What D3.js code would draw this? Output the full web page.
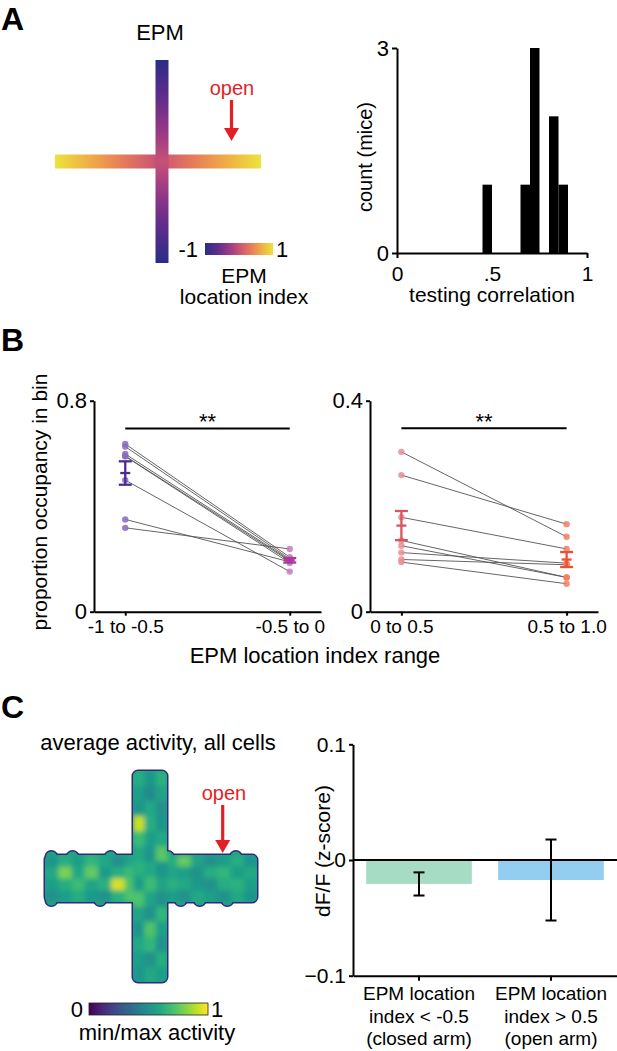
<!DOCTYPE html>
<html><head><meta charset="utf-8">
<script src="https://cdn.jsdelivr.net/npm/d3@7"></script>
<style>
body{margin:0;background:#fff}
svg text{font-family:"Liberation Sans",Arial,Helvetica,sans-serif;fill:#000}
</style>
</head><body>
<svg id="fig" width="617" height="1051"></svg>
<script>
// ---------------- DATA ----------------
// Panel A histogram
const histBinStarts = [0.45, 0.65, 0.70, 0.80, 0.85];
const histBinWidth = 0.05;
const histCounts = [1, 1, 3, 2, 1];
const histXTicks = [0, 0.5, 1];
const histXTickLabels = ["0", ".5", "1"];
const histYTicks = [0, 3];
// Panel A colour bar
const epmIndexDomain = [-1, 1];
const epmColors = ["#2c2d85", "#6f2b8e", "#cf4c7a", "#f3914a", "#ece43c"];
// Panel B paired data (8 mice)
const closedCats = ["-1 to -0.5", "-0.5 to 0"];
const closedBin1 = [0.636, 0.626, 0.598, 0.590, 0.589, 0.499, 0.350, 0.318];
const closedBin2 = [0.207, 0.200, 0.196, 0.192, 0.185, 0.152, 0.189, 0.238];
const openCats = ["0 to 0.5", "0.5 to 1.0"];
const openBin1 = [0.303, 0.259, 0.179, 0.135, 0.125, 0.112, 0.099, 0.094];
const openBin2 = [0.142, 0.166, 0.119, 0.065, 0.065, 0.092, 0.089, 0.053];
const closedYTicks = [0, 0.8];
const openYTicks = [0, 0.4];
const closedSigLevel = 0.695;
const openSigLevel = 0.348;
// Panel C heat map (min/max normalised activity)
const vArmGrid = [
  [0.62, 0.52, 0.64],
  [0.56, 0.48, 0.58],
  [0.52, 0.60, 0.50],
  [0.92, 0.62, 0.52],
  [0.68, 0.56, 0.60],
  [0.60, 0.52, 0.74],
  [0.64, 0.60, 0.52],
  [0.56, 0.68, 0.58],
  [0.72, 0.58, 0.50],
  [0.58, 0.50, 0.66],
  [0.52, 0.72, 0.56],
  [0.60, 0.66, 0.50],
  [0.56, 0.50, 0.62],
  [0.52, 0.60, 0.56]
];
const hArmGrid = [
  [0.52,0.62,0.56,0.66,0.60,0.50,0.58,0.64,0.52,0.62,0.76,0.58,0.50,0.56,0.62,0.52],
  [0.60,0.80,0.60,0.76,0.54,0.62,0.68,0.56,0.64,0.58,0.56,0.50,0.62,0.66,0.56,0.60],
  [0.56,0.62,0.68,0.58,0.64,0.94,0.72,0.60,0.56,0.64,0.60,0.54,0.50,0.62,0.64,0.56],
  [0.50,0.56,0.62,0.54,0.50,0.64,0.72,0.58,0.64,0.56,0.50,0.60,0.56,0.50,0.60,0.52]
];
// bumps on the horizontal arm's edges (fraction along the arm)
const hArmTopBumps = [0.03, 0.13, 0.31, 0.58, 0.90];
const hArmBottomBumps = [0.03, 0.26, 0.64, 0.73, 0.86];
// Panel C bars
const dffCats = [["EPM location","index < -0.5","(closed arm)"],["EPM location","index > 0.5","(open arm)"]];
const dffMeans = [-0.0207, -0.0173];
const dffErr = [0.0100, 0.0350];
const dffTicks = [-0.1, 0, 0.1];

// ---------------- HELPERS ----------------
const svg = d3.select("#fig");
const defs = svg.append("defs");
const RED = "#e31e26";
function text(x, y, s, o = {}) {
  const t = svg.append("text").attr("x", x).attr("y", y).text(s)
    .attr("font-size", o.size || 21)
    .attr("text-anchor", o.anchor || "middle");
  if (o.weight) t.attr("font-weight", o.weight);
  if (o.fill) t.style("fill", o.fill);
  if (o.rotate) t.attr("transform", `rotate(-90,${x},${y})`);
  return t;
}
function styleAxis(g, size) {
  g.selectAll("path.domain").attr("stroke", "#000").attr("stroke-width", 2);
  g.selectAll(".tick line").attr("stroke", "#000").attr("stroke-width", 2);
  g.selectAll(".tick text").attr("font-size", size || 21)
    .attr("font-family", '"Liberation Sans",Arial,sans-serif').style("fill", "#000");
}
function arrow(x, y1, y2) {
  svg.append("line").attr("x1", x).attr("x2", x).attr("y1", y1).attr("y2", y2 - 11)
    .attr("stroke", RED).attr("stroke-width", 3.2);
  svg.append("path").attr("d", `M${x-7.5},${y2-13}L${x+7.5},${y2-13}L${x},${y2}Z`).attr("fill", RED);
}

// ---------------- PANEL LETTERS ----------------
text(1, 30, "A", {size: 32, weight: "bold", anchor: "start"});
text(1, 351, "B", {size: 32, weight: "bold", anchor: "start"});
text(1, 718, "C", {size: 32, weight: "bold", anchor: "start"});

// ---------------- PANEL A: EPM schematic ----------------
const epmInterp = d3.interpolateRgbBasis(epmColors);
const epmColor = v => epmInterp((v - epmIndexDomain[0]) / (epmIndexDomain[1] - epmIndexDomain[0]));
function gradient(id, horizontal, fn) {
  const g = defs.append("linearGradient").attr("id", id)
    .attr("x1", 0).attr("y1", 0).attr("x2", horizontal ? 1 : 0).attr("y2", horizontal ? 0 : 1);
  d3.range(0, 1.0001, 0.05).forEach(o => g.append("stop").attr("offset", o).attr("stop-color", fn(o)));
}
gradient("gH", true, o => epmColor(Math.abs(2 * o - 1)));
gradient("gV", false, o => epmColor(-Math.abs(2 * o - 1)));
gradient("gBar", true, o => epmColor(-1 + 2 * o));
text(160, 40, "EPM", {size: 22});
const armX = d3.scaleLinear().domain([-1, 1]).range([55, 261]);
const armY = d3.scaleLinear().domain([-1, 1]).range([263, 60]);
svg.append("rect").attr("x", armX(-1)).attr("y", armY(0) - 7).attr("width", armX(1) - armX(-1)).attr("height", 14).attr("fill", "url(#gH)");
svg.append("rect").attr("x", armX(0) + 4.5 - 7).attr("y", armY(1)).attr("width", 13).attr("height", armY(-1) - armY(1)).attr("fill", "url(#gV)");
text(232, 95, "open", {size: 20, fill: RED});
arrow(231.5, 100, 141);
const cbA = d3.scaleLinear().domain(epmIndexDomain).range([205, 273]);
svg.append("rect").attr("x", cbA(-1)).attr("y", 243).attr("width", cbA(1) - cbA(-1)).attr("height", 12).attr("fill", "url(#gBar)");
text(198, 257, "-1", {size: 22, anchor: "end"});
text(276, 257, "1", {size: 22, anchor: "start"});
text(244, 283, "EPM", {size: 21});
text(244, 304, "location index", {size: 21});

// ---------------- PANEL A: histogram ----------------
{
  const x = d3.scaleLinear().domain([0, 1]).range([397, 587]);
  const y = d3.scaleLinear().domain([0, 3]).range([253, 48]);
  svg.append("g").selectAll("rect").data(histBinStarts).join("rect")
    .attr("x", d => x(d)).attr("width", x(histBinWidth) - x(0))
    .attr("y", (d, i) => y(histCounts[i])).attr("height", (d, i) => y(0) - y(histCounts[i]))
    .attr("fill", "#000");
  const gx = svg.append("g").attr("transform", `translate(0,${y(0)})`)
    .call(d3.axisBottom(x).tickValues(histXTicks).tickFormat((d, i) => histXTickLabels[i]).tickSize(5).tickPadding(8).tickSizeOuter(0));
  styleAxis(gx, 21);
  gx.selectAll(".tick").filter(d => d === 0.5).select("line").remove();
  const gy = svg.append("g").attr("transform", `translate(${x(0)},0)`)
    .call(d3.axisLeft(y).tickValues(histYTicks).tickFormat(d3.format("d")).tickSize(5).tickPadding(3).tickSizeOuter(0));
  styleAxis(gy, 22);
  text(372, 157, "count (mice)", {size: 20, rotate: true});
  text(492, 302, "testing correlation", {size: 21});
}

// ---------------- PANEL B ----------------
function paired(cfg) {
  const x = d3.scalePoint().domain(cfg.cats).range(cfg.xr).padding(0.19);
  const y = d3.scaleLinear().domain([0, cfg.yTicks[1]]).range([611.7, 400.7]);
  const x1 = x(cfg.cats[0]), x2 = x(cfg.cats[1]);
  const g = svg.append("g");
  g.selectAll("line.pair").data(cfg.v1).join("line").attr("class", "pair")
    .attr("x1", x1).attr("x2", x2).attr("y1", d => y(d)).attr("y2", (d, i) => y(cfg.v2[i]))
    .attr("stroke", "#555").attr("stroke-width", 0.9);
  [[cfg.v1, x1, cfg.dot[0], cfg.mean[0]], [cfg.v2, x2, cfg.dot[1], cfg.mean[1]]].forEach(([vals, cx, dc, mc]) => {
    g.append("g").selectAll("circle").data(vals).join("circle")
      .attr("cx", cx).attr("cy", d => y(d)).attr("r", 3.2).attr("fill", dc).attr("fill-opacity", 0.85);
    const m = d3.mean(vals), se = d3.deviation(vals) / Math.sqrt(vals.length);
    const eg = g.append("g").attr("stroke", mc).attr("stroke-width", 2.3);
    eg.append("line").attr("x1", cx).attr("x2", cx).attr("y1", y(m - se)).attr("y2", y(m + se));
    [m - se, m + se].forEach(v => eg.append("line").attr("x1", cx - 6.5).attr("x2", cx + 6.5).attr("y1", y(v)).attr("y2", y(v)));
    eg.append("line").attr("x1", cx - 5).attr("x2", cx + 5).attr("y1", y(m)).attr("y2", y(m));
  });
  g.append("line").attr("x1", x1).attr("x2", x2).attr("y1", y(cfg.sig)).attr("y2", y(cfg.sig))
    .attr("stroke", "#000").attr("stroke-width", 2);
  text((x1 + x2) / 2, y(cfg.sig) + 0.5, "**", {size: 22});
  const gx = svg.append("g").attr("transform", `translate(0,${y(0)})`)
    .call(d3.axisBottom(x).tickSize(4).tickPadding(4).tickSizeOuter(0));
  styleAxis(gx, 19);
  const gy = svg.append("g").attr("transform", `translate(${cfg.xr[0]},0)`)
    .call(d3.axisLeft(y).tickValues(cfg.yTicks).tickFormat(d => d === 0 ? "0" : d3.format(".1f")(d)).tickSize(4).tickPadding(3).tickSizeOuter(0));
  styleAxis(gy, 22);
}
paired({cats: closedCats, v1: closedBin1, v2: closedBin2, xr: [94, 321], yTicks: closedYTicks, sig: closedSigLevel,
  dot: ["#8a6bbd", "#c77cbf"], mean: ["#4b2c91", "#a8399a"]});
paired({cats: openCats, v1: openBin1, v2: openBin2, xr: [370, 598], yTicks: openYTicks, sig: openSigLevel,
  dot: ["#ea8d95", "#f27f62"], mean: ["#d85560", "#ee4f33"]});
text(47, 502, "proportion occupancy in bin", {size: 21, rotate: true});
text(315, 663, "EPM location index range", {size: 22});

// ---------------- PANEL C: heat map ----------------
{
  text(158, 750, "average activity, all cells", {size: 22});
  const vx = d3.scaleBand().domain(d3.range(vArmGrid[0].length)).range([133, 167]);
  const vy = d3.scaleBand().domain(d3.range(vArmGrid.length)).range([771, 982]);
  const hx = d3.scaleBand().domain(d3.range(hArmGrid[0].length)).range([45, 257]);
  const hy = d3.scaleBand().domain(d3.range(hArmGrid.length)).range([855, 902]);
  const along = d3.scaleLinear().domain([0, 1]).range(hx.range());
  const shapes = [
    {x: vx.range()[0], y: vy.range()[0], w: vx.range()[1] - vx.range()[0], h: vy.range()[1] - vy.range()[0]},
    {x: hx.range()[0], y: hy.range()[0], w: hx.range()[1] - hx.range()[0], h: hy.range()[1] - hy.range()[0]}
  ];
  const bumps = hArmTopBumps.map(f => ({cx: along(f), cy: hy.range()[0] + 2}))
    .concat(hArmBottomBumps.map(f => ({cx: along(f), cy: hy.range()[1] - 2})));
  function addShapes(sel, attrs) {
    shapes.forEach(s => { const r = sel.append("rect").attr("x", s.x).attr("y", s.y).attr("width", s.w).attr("height", s.h).attr("rx", 5); attrs(r); });
    bumps.forEach(b => { const c = sel.append("circle").attr("cx", b.cx).attr("cy", b.cy).attr("r", 5.5); attrs(c); });
  }
  const clip = defs.append("clipPath").attr("id", "crossClip");
  addShapes(clip, () => {});
  const blur = defs.append("filter").attr("id", "blur").attr("x", -0.2).attr("y", -0.2).attr("width", 1.4).attr("height", 1.4);
  blur.append("feGaussianBlur").attr("stdDeviation", 2.6);
  addShapes(svg.append("g"), s => s.attr("fill", "none").attr("stroke", "#33287c").attr("stroke-width", 3));
  const hg = svg.append("g").attr("clip-path", "url(#crossClip)");
  hg.append("rect").attr("x", hx.range()[0] - 10).attr("y", vy.range()[0] - 10).attr("width", 240).attr("height", 230)
    .attr("fill", d3.interpolateViridis(0.58));
  const cells = hg.append("g").attr("filter", "url(#blur)");
  hArmGrid.forEach((row, r) => row.forEach((v, c) => cells.append("rect")
    .attr("x", hx(c)).attr("y", hy(r)).attr("width", hx.bandwidth() + 0.5).attr("height", hy.bandwidth() + 0.5)
    .attr("fill", d3.interpolateViridis(v))));
  vArmGrid.forEach((row, r) => row.forEach((v, c) => cells.append("rect")
    .attr("x", vx(c)).attr("y", vy(r)).attr("width", vx.bandwidth() + 0.5).attr("height", vy.bandwidth() + 0.5)
    .attr("fill", d3.interpolateViridis(v))));
  text(224, 800, "open", {size: 20, fill: RED});
  arrow(222.7, 805, 853);
  const gv = defs.append("linearGradient").attr("id", "gVir");
  d3.range(0, 1.0001, 0.1).forEach(o => gv.append("stop").attr("offset", o).attr("stop-color", d3.interpolateViridis(o)));
  const cb = d3.scaleLinear().domain([0, 1]).range([89, 208]);
  svg.append("rect").attr("x", cb(0)).attr("y", 1003).attr("width", cb(1) - cb(0)).attr("height", 12)
    .attr("fill", "url(#gVir)").attr("stroke", "#222").attr("stroke-width", 0.8);
  text(83, 1017, "0", {size: 22, anchor: "end"});
  text(211, 1017, "1", {size: 22, anchor: "start"});
  text(157, 1040, "min/max activity", {size: 22});
}

// ---------------- PANEL C: bar chart ----------------
{
  const x = d3.scaleBand().domain(d3.range(dffMeans.length)).range([353, 617]).paddingInner(0.2).paddingOuter(0.1);
  const y = d3.scaleLinear().domain([-0.1, 0.1]).range([975.7, 744.3]);
  const colors = ["#a5dcc3", "#93cef0"];
  svg.append("g").selectAll("rect").data(dffMeans).join("rect")
    .attr("x", (d, i) => x(i)).attr("width", x.bandwidth())
    .attr("y", d => y(Math.max(0, d))).attr("height", d => Math.abs(y(d) - y(0)))
    .attr("fill", (d, i) => colors[i]);
  svg.append("line").attr("x1", 353).attr("x2", 617).attr("y1", y(0)).attr("y2", y(0)).attr("stroke", "#000").attr("stroke-width", 2);
  const eg = svg.append("g").attr("stroke", "#000").attr("stroke-width", 2);
  dffMeans.forEach((m, i) => {
    const cx = x(i) + x.bandwidth() / 2, e = dffErr[i];
    eg.append("line").attr("x1", cx).attr("x2", cx).attr("y1", y(m - e)).attr("y2", y(m + e));
    [m - e, m + e].forEach(v => eg.append("line").attr("x1", cx - 5.5).attr("x2", cx + 5.5).attr("y1", y(v)).attr("y2", y(v)));
  });
  const gx = svg.append("g").attr("transform", `translate(0,${y(-0.1)})`)
    .call(d3.axisBottom(x).tickSize(5).tickFormat("").tickSizeOuter(0));
  styleAxis(gx);
  const gy = svg.append("g").attr("transform", `translate(353,0)`)
    .call(d3.axisLeft(y).tickValues(dffTicks).tickFormat(d => d === 0 ? "0" : d3.format(".1f")(d)).tickSize(4).tickPadding(3).tickSizeOuter(0));
  styleAxis(gy, 21);
  dffCats.forEach((lines, i) => lines.forEach((s, j) => text(x(i) + x.bandwidth() / 2, 1000 + j * 22.5, s, {size: 19})));
  text(330, 851, "dF/F (z-score)", {size: 21, rotate: true});
}
</script>
</body></html>
